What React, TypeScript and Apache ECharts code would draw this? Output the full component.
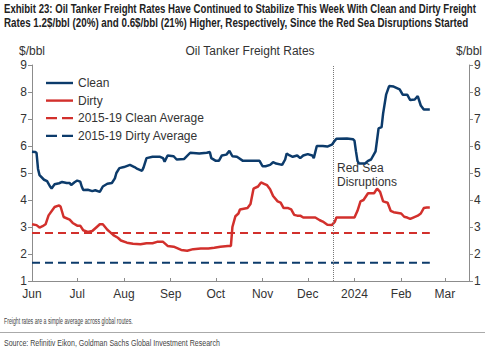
import React, { useEffect, useRef } from "react";
import * as echarts from "echarts";

const cleanDates = [
  "2023-06-01","2023-06-03","2023-06-04","2023-06-05","2023-06-06","2023-06-09","2023-06-11","2023-06-13","2023-06-14","2023-06-16",
  "2023-06-19","2023-06-21","2023-06-24","2023-06-26","2023-06-27","2023-06-29","2023-07-01","2023-07-03","2023-07-04","2023-07-05",
  "2023-07-08","2023-07-11","2023-07-13","2023-07-16","2023-07-18","2023-07-21","2023-07-24","2023-07-26","2023-07-27","2023-07-29",
  "2023-08-01","2023-08-05","2023-08-08","2023-08-10","2023-08-13","2023-08-14","2023-08-16","2023-08-20","2023-08-25","2023-08-27",
  "2023-08-28","2023-08-30","2023-09-03","2023-09-05","2023-09-10","2023-09-14","2023-09-20","2023-09-25","2023-09-27","2023-09-28",
  "2023-10-01","2023-10-03","2023-10-05","2023-10-08","2023-10-10","2023-10-12","2023-10-15","2023-10-19","2023-10-23","2023-10-25",
  "2023-10-30","2023-11-01","2023-11-03","2023-11-06","2023-11-08","2023-11-10","2023-11-14","2023-11-16","2023-11-17","2023-11-19",
  "2023-11-21","2023-11-24","2023-11-26","2023-11-28","2023-12-01","2023-12-04","2023-12-05","2023-12-07","2023-12-11","2023-12-14",
  "2023-12-17","2023-12-19","2023-12-20","2023-12-27","2023-12-31","2024-01-01","2024-01-02","2024-01-03","2024-01-04","2024-01-08",
  "2024-01-10","2024-01-12","2024-01-15","2024-01-17","2024-01-19","2024-01-20","2024-01-22","2024-01-24","2024-01-27","2024-01-31",
  "2024-02-02","2024-02-05","2024-02-07","2024-02-10","2024-02-12","2024-02-14","2024-02-16","2024-02-20",
];
const cleanValues = [
  5.79,5.78,5.75,5.15,4.92,4.75,4.7,4.5,4.43,4.58,
  4.62,4.67,4.63,4.63,4.55,4.65,4.72,4.68,4.5,4.37,
  4.38,4.33,4.36,4.3,4.5,4.6,4.63,4.8,5.0,5.18,
  5.22,5.3,5.22,5.15,5.08,5.2,5.55,5.6,5.6,5.55,
  5.42,5.65,5.62,5.5,5.52,5.75,5.72,5.75,5.78,5.55,
  5.45,5.45,5.65,5.68,5.82,5.62,5.6,5.45,5.45,5.45,
  5.45,5.25,5.25,5.3,5.4,5.35,5.3,5.5,5.72,5.65,
  5.6,5.65,5.55,5.65,5.7,5.65,5.55,6.0,6.0,5.98,
  6.05,6.2,6.27,6.28,6.25,6.2,5.8,5.45,5.35,5.35,
  5.45,5.5,5.8,6.65,6.7,7.2,7.9,8.22,8.2,8.1,
  7.9,7.9,7.7,7.72,7.85,7.5,7.35,7.35,
];

const dirtyDates = [
  "2023-06-01","2023-06-04","2023-06-06","2023-06-08","2023-06-10","2023-06-12","2023-06-16","2023-06-19","2023-06-20","2023-06-22",
  "2023-06-26","2023-06-28","2023-07-01","2023-07-03","2023-07-05","2023-07-08","2023-07-11","2023-07-14","2023-07-16","2023-07-18",
  "2023-07-21","2023-07-23","2023-07-25","2023-07-28","2023-07-30","2023-08-03","2023-08-07","2023-08-12","2023-08-16","2023-08-20",
  "2023-08-23","2023-08-27","2023-08-30","2023-09-03","2023-09-08","2023-09-12","2023-09-16","2023-09-21","2023-09-26","2023-09-30",
  "2023-10-04","2023-10-09","2023-10-11","2023-10-12","2023-10-14","2023-10-16","2023-10-17","2023-10-22","2023-10-24","2023-10-26",
  "2023-10-29","2023-10-31","2023-11-02","2023-11-04","2023-11-06","2023-11-08","2023-11-11","2023-11-13","2023-11-15","2023-11-18",
  "2023-11-20","2023-11-22","2023-11-24","2023-11-26","2023-11-28","2023-12-03","2023-12-06","2023-12-09","2023-12-11","2023-12-14",
  "2023-12-17","2023-12-19","2023-12-20","2023-12-24","2023-12-29","2024-01-01","2024-01-03","2024-01-05","2024-01-07","2024-01-10",
  "2024-01-12","2024-01-14","2024-01-16","2024-01-18","2024-01-20","2024-01-23","2024-01-25","2024-01-27","2024-02-01","2024-02-03",
  "2024-02-05","2024-02-07","2024-02-09","2024-02-12","2024-02-14","2024-02-16","2024-02-18","2024-02-20",
];
const dirtyValues = [
  3.1,3.07,2.98,3.03,3.1,3.43,3.74,3.8,3.75,3.37,
  3.27,3.15,3.05,3.05,2.88,2.82,2.85,3.0,3.1,3.1,
  2.9,2.8,2.7,2.6,2.5,2.42,2.38,2.36,2.4,2.4,
  2.45,2.45,2.3,2.27,2.15,2.12,2.18,2.2,2.2,2.23,
  2.27,2.3,2.3,3.0,3.4,3.5,3.65,3.7,3.85,4.42,
  4.5,4.65,4.6,4.55,4.4,4.15,3.95,3.9,3.7,3.7,
  3.65,3.45,3.42,3.42,3.35,3.35,3.35,3.25,3.2,3.08,
  3.07,3.2,3.35,3.35,3.35,3.35,3.6,3.95,4.0,4.25,
  4.25,4.25,4.42,4.3,3.95,3.9,3.6,3.55,3.5,3.38,
  3.35,3.3,3.35,3.42,3.5,3.7,3.72,3.72,
];

const avgDates = ["2023-06-01", "2024-02-20"];
const cleanAverage = [2.78, 2.78];
const dirtyAverage = [1.68, 1.68];

const redSeaDate = "2023-12-18";
const axisMin = "2023-06-01";
const axisMax = "2024-03-17";
const monthNames = ["Jan","Feb","Mar","Apr","May","Jun","Jul","Aug","Sep","Oct","Nov","Dec"];

const titleLine1 = "Exhibit 23: Oil Tanker Freight Rates Have Continued to Stabilize This Week With Clean and Dirty Freight";
const titleLine2 = "Rates 1.2$/bbl (20%) and 0.6$/bbl (21%) Higher, Respectively, Since the Red Sea Disruptions Started";
const footnote = "Freight rates are a simple average across global routes.";
const source = "Source: Refinitiv Eikon, Goldman Sachs Global Investment Research";

const NAVY = "#0c3b6b";
const RED = "#d2302c";
const TEXT = "#333333";
const AXIS = "#8c8c8c";

const SOLID_ICON = "path://M0,0M0,5.8h27v2.4h-27zM27,14";
const DASH_ICON = "path://M0,0M0,5.9h11v2.2h-11zM16,5.9h11v2.2h-11zM27,14";

const pair = (dates: string[], vals: number[]) => dates.map((d, i) => [d, vals[i]]);

function measure(text: string, font: string): number {
  const c = document.createElement("canvas").getContext("2d");
  if (!c) return text.length * 6;
  c.font = font;
  return c.measureText(text).width;
}

export default function App() {
  const ref = useRef<HTMLDivElement>(null);
  useEffect(() => {
    if (!ref.current) return;
    const chart = echarts.init(ref.current, undefined, { renderer: "svg" });
    const font = "'Liberation Sans', Arial, sans-serif";
    const titleFont = `bold 12px ${font}`;
    const smallFont = `9px ${font}`;
    const t1s = 472 / measure(titleLine1, titleFont);
    const t2s = 465 / measure(titleLine2, titleFont);
    const fns = 129 / measure(footnote, smallFont);
    const srs = 216 / measure(source, smallFont);
    const yAxisBase = {
      type: "value",
      min: 1,
      max: 9,
      interval: 1,
      splitLine: { show: false },
      axisLine: { show: true, lineStyle: { color: AXIS } },
      axisTick: { show: true, length: 4, lineStyle: { color: AXIS } },
      axisLabel: { color: TEXT, fontSize: 12, fontFamily: font, margin: 5 },
      name: "$/bbl",
      nameLocation: "end",
      nameGap: 8,
      nameTextStyle: { color: TEXT, fontSize: 12, fontFamily: font },
    };
    chart.setOption({
      animation: false,
      textStyle: { fontFamily: font },
      grid: { left: 32, right: 16, top: 65, bottom: 75 },
      legend: {
        left: 41,
        top: 71,
        orient: "vertical",
        itemWidth: 27,
        itemHeight: 14,
        itemGap: 3.6,
        textStyle: { color: TEXT, fontSize: 12, fontFamily: font },
        data: [
          { name: "Clean", icon: SOLID_ICON },
          { name: "Dirty", icon: SOLID_ICON },
          { name: "2015-19 Clean Average", icon: DASH_ICON },
          { name: "2015-19 Dirty Average", icon: DASH_ICON },
        ],
      },
      xAxis: {
        type: "time",
        min: axisMin,
        max: axisMax,
        splitNumber: 10,
        splitLine: { show: false },
        axisLine: { lineStyle: { color: AXIS } },
        axisTick: { show: true, inside: true, length: 3, lineStyle: { color: AXIS } },
        axisLabel: {
          color: TEXT,
          fontSize: 12,
          fontFamily: font,
          margin: 7,
          showMinLabel: true,
          formatter: (v: number) => {
            const d = new Date(v);
            return d.getMonth() === 0 ? String(d.getFullYear()) : monthNames[d.getMonth()];
          },
        },
      },
      yAxis: [
        { ...yAxisBase, position: "left" },
        { ...yAxisBase, position: "right" },
      ],
      series: [
        {
          name: "Clean",
          type: "line",
          symbol: "none",
          data: pair(cleanDates, cleanValues),
          lineStyle: { color: NAVY, width: 2.5 },
          itemStyle: { color: NAVY },
          z: 5,
          markLine: {
            silent: true,
            symbol: "none",
            label: { show: false },
            lineStyle: { color: "#777", type: "dotted", width: 1 },
            data: [{ xAxis: redSeaDate }],
          },
        },
        {
          name: "Dirty",
          type: "line",
          symbol: "none",
          data: pair(dirtyDates, dirtyValues),
          lineStyle: { color: RED, width: 2.5 },
          itemStyle: { color: RED },
          z: 4,
        },
        {
          name: "2015-19 Clean Average",
          type: "line",
          symbol: "none",
          data: pair(avgDates, cleanAverage),
          lineStyle: { color: RED, width: 2, type: [8, 5] },
          itemStyle: { color: RED },
          z: 3,
        },
        {
          name: "2015-19 Dirty Average",
          type: "line",
          symbol: "none",
          data: pair(avgDates, dirtyAverage),
          lineStyle: { color: NAVY, width: 2, type: [8, 5] },
          itemStyle: { color: NAVY },
          z: 3,
        },
      ],
      graphic: [
        {
          type: "text",
          x: 4,
          y: 8.5,
          scaleX: t1s,
          style: { text: titleLine1, font: titleFont, fill: "#222", verticalAlign: "middle" },
        },
        {
          type: "text",
          x: 4,
          y: 23,
          scaleX: t2s,
          style: { text: titleLine2, font: titleFont, fill: "#222", verticalAlign: "middle" },
        },
        {
          type: "text",
          x: 250,
          y: 51,
          style: {
            text: "Oil Tanker Freight Rates",
            font: `12px ${font}`,
            fill: TEXT,
            align: "center",
            verticalAlign: "middle",
          },
        },
        {
          type: "text",
          x: 337,
          y: 161,
          style: {
            text: "Red Sea\nDisruptions",
            font: `12px ${font}`,
            fill: TEXT,
            lineHeight: 14,
          },
        },
        {
          type: "text",
          x: 4,
          y: 321,
          scaleX: fns,
          style: { text: footnote, font: smallFont, fill: "#444", verticalAlign: "middle" },
        },
        {
          type: "line",
          shape: { x1: 0, y1: 332.5, x2: 485, y2: 332.5 },
          style: { stroke: "#aaa", lineWidth: 1 },
        },
        {
          type: "text",
          x: 4,
          y: 343,
          scaleX: srs,
          style: { text: source, font: smallFont, fill: "#444", verticalAlign: "middle" },
        },
      ],
    });
    return () => chart.dispose();
  }, []);
  return <div ref={ref} style={{ position: "fixed", left: 0, top: 0, width: 485, height: 356, background: "#fff" }} />;
}
